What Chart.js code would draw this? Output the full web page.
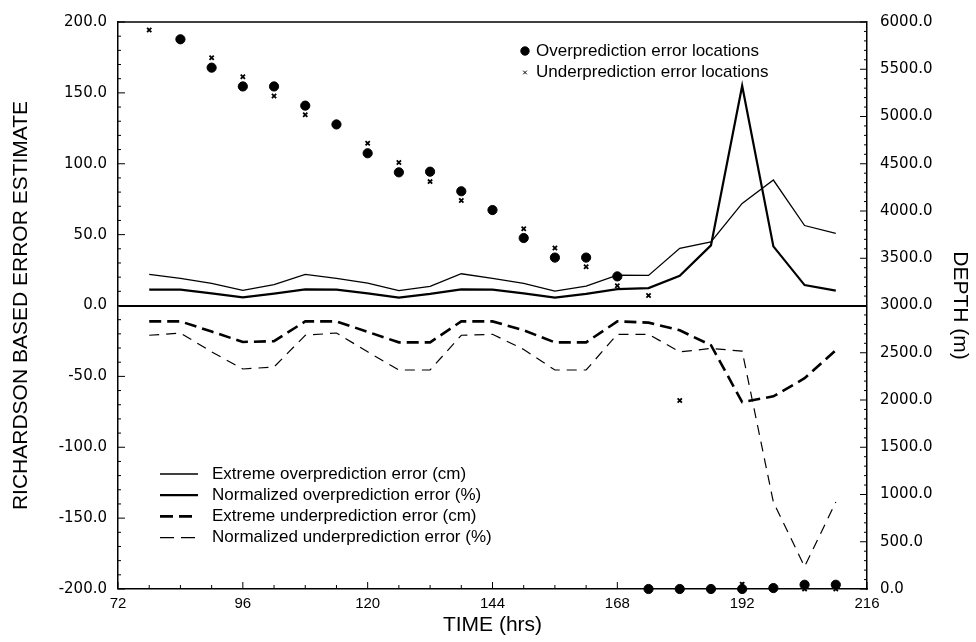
<!DOCTYPE html>
<html>
<head>
<meta charset="utf-8">
<title>Richardson based error estimate</title>
<script src="https://cdn.jsdelivr.net/npm/chart.js@4.4.1/dist/chart.umd.min.js"></script>
<style>
  html, body { margin: 0; padding: 0; background: #fff; }
  canvas { display: block; }
</style>
</head>
<body>
<canvas id="chart" width="976" height="642"></canvas>
<script>
// time of each estimate (hrs)
const hours = [78, 84, 90, 96, 102, 108, 114, 120, 126, 132, 138, 144, 150, 156, 162, 168, 174, 180, 186, 192, 198, 204, 210];

// error estimates, left axis
const extremeOver = [21.9, 19.1, 15.6, 10.7, 14.7, 21.9, 19.1, 15.8, 10.5, 13.5, 22.4, 19.1, 15.6, 10.2, 13.7, 21.4, 21.2, 40.3, 44.8, 72.0, 88.5, 56.4, 50.8];
const normOver = [11.2, 11.2, 8.6, 5.8, 8.4, 11.4, 11.2, 8.6, 5.6, 8.2, 11.4, 11.2, 8.6, 5.6, 8.2, 11.6, 12.3, 21.0, 42.4, 155.0, 41.7, 14.4, 10.5];
const extremeUnder = [-11.2, -11.2, -18.4, -25.7, -25.2, -11.2, -11.2, -18.6, -26.0, -26.0, -11.2, -11.2, -17.5, -26.0, -26.0, -11.2, -12.1, -17.5, -28.0, -68.1, -64.1, -51.3, -31.5];
const normUnder = [-21.0, -19.4, -32.7, -44.8, -43.4, -21.0, -19.4, -32.7, -45.5, -45.5, -21.0, -20.3, -31.0, -45.5, -45.5, -20.3, -20.3, -32.7, -30.3, -32.2, -138.7, -184.2, -138.7];

// error locations, right axis (depth m)
const overDepth = [null, 5817, 5517, 5318, 5318, 5115, 4916, 4611, 4409, 4416, 4209, 4010, 3714, 3507, 3507, 3308, 0, 0, 0, 0, 10, 45, 45];
const underDepth = [5916, null, 5622, 5420, 5217, 5018, null, 4716, 4514, 4311, 4112, null, 3812, 3609, 3410, 3210, 3105, 1994, 0, 50, 0, 0, 0];

const xTicks = [72, 96, 120, 144, 168, 192, 216];

const toPoints = (ys) => hours.map((h, i) => ({x: h, y: ys[i]})).filter(p => p.y !== null);

// little tick marks pointing into the plot, plus the top edge of the frame
const innerTicks = {
  id: 'innerTicks',
  afterDraw(chart) {
    const {ctx, chartArea: a, scales} = chart;
    ctx.save();
    ctx.strokeStyle = '#000';
    ctx.lineWidth = 1.5;
    ctx.beginPath();
    ctx.moveTo(a.left, a.top);
    ctx.lineTo(a.right, a.top);
    ctx.stroke();
    ctx.lineWidth = 1;
    for (let h = 72; h <= 216; h += 6) {
      const px = scales.x.getPixelForValue(h);
      const len = h % 24 === 0 ? 7 : 4;
      ctx.beginPath(); ctx.moveTo(px, a.bottom); ctx.lineTo(px, a.bottom - len); ctx.stroke();
    }
    for (let v = -200; v <= 200; v += 10) {
      const py = scales.y.getPixelForValue(v);
      const len = v % 50 === 0 ? 7 : 3;
      ctx.beginPath(); ctx.moveTo(a.left, py); ctx.lineTo(a.left + len, py); ctx.stroke();
    }
    for (let d = 0; d <= 6000; d += 100) {
      const py = scales.y2.getPixelForValue(d);
      const len = d % 500 === 0 ? 7 : 3;
      ctx.beginPath(); ctx.moveTo(a.right, py); ctx.lineTo(a.right - len, py); ctx.stroke();
    }
    ctx.restore();
  }
};

// two separate legend blocks like the original figure
const splitLegend = {
  id: 'splitLegend',
  afterDraw(chart, args, opts) {
    const {ctx} = chart;
    ctx.save();
    ctx.fillStyle = '#000';
    ctx.strokeStyle = '#000';
    ctx.font = opts.font;
    ctx.textBaseline = 'middle';
    ctx.textAlign = 'left';
    let pi = 0, li = 0;
    chart.data.datasets.forEach((ds) => {
      if (ds.type === 'scatter') {
        const x = opts.points.x, y = opts.points.y + pi * opts.points.row;
        Chart.helpers.drawPoint(ctx, {
          pointStyle: ds.pointStyle, radius: ds.legendRadius, borderWidth: ds.borderWidth, rotation: 0
        }, x, y);
        ctx.fillText(ds.label, x + 11, y);
        pi++;
      } else {
        const x = opts.lines.x, y = opts.lines.y + li * opts.lines.row;
        ctx.lineWidth = ds.borderWidth;
        ctx.setLineDash(ds.legendDash || []);
        ctx.beginPath(); ctx.moveTo(x, y); ctx.lineTo(x + 38, y); ctx.stroke();
        ctx.setLineDash([]);
        ctx.fillText(ds.label, x + 52, y);
        li++;
      }
    });
    ctx.restore();
  }
};

Chart.defaults.color = '#000';
Chart.defaults.font.family = '"Liberation Sans", Arial, sans-serif';

new Chart(document.getElementById('chart'), {
  type: 'line',
  data: {
    datasets: [
      {
        type: 'scatter', label: 'Overprediction error locations', yAxisID: 'y2',
        data: toPoints(overDepth), pointStyle: 'circle', pointRadius: 4.6, legendRadius: 4.2,
        backgroundColor: '#000', borderColor: '#000', borderWidth: 1, clip: false
      },
      {
        type: 'scatter', label: 'Underprediction error locations', yAxisID: 'y2',
        data: toPoints(underDepth), pointStyle: 'crossRot', pointRadius: 3, legendRadius: 2.6,
        backgroundColor: '#000', borderColor: '#000', borderWidth: 1.8, clip: false
      },
      {
        label: 'Extreme overprediction error (cm)', yAxisID: 'y', data: toPoints(extremeOver),
        borderColor: '#000', borderWidth: 1.3, pointRadius: 0, tension: 0
      },
      {
        label: 'Normalized overprediction error (%)', yAxisID: 'y', data: toPoints(normOver),
        borderColor: '#000', borderWidth: 2.2, pointRadius: 0, tension: 0
      },
      {
        label: 'Extreme underprediction error (cm)', yAxisID: 'y', data: toPoints(extremeUnder),
        borderColor: '#000', borderWidth: 2.6, borderDash: [12, 6], legendDash: [13, 6], pointRadius: 0, tension: 0
      },
      {
        label: 'Normalized underprediction error (%)', yAxisID: 'y', data: toPoints(normUnder),
        borderColor: '#000', borderWidth: 1.2, borderDash: [10, 7], legendDash: [14, 7], pointRadius: 0, tension: 0
      }
    ]
  },
  options: {
    responsive: false,
    animation: false,
    devicePixelRatio: 1,
    layout: { padding: { top: 17, left: 0, right: 0, bottom: 0 } },
    plugins: {
      legend: { display: false },
      tooltip: { enabled: false },
      splitLegend: {
        font: '17px "Liberation Sans", Arial, sans-serif',
        points: { x: 525, y: 51, row: 21.5 },
        lines: { x: 160, y: 474, row: 21.2 }
      }
    },
    scales: {
      x: {
        type: 'linear', min: 72, max: 216,
        afterBuildTicks: (s) => { s.ticks = xTicks.map(v => ({value: v})); },
        afterFit: (s) => { s.height = 53; },
        grid: { display: false, drawTicks: false },
        border: { display: true, color: '#000', width: 1.5 },
        ticks: { padding: 6, maxRotation: 0, font: { size: 15 }, callback: (v) => String(v) },
        title: { display: true, text: 'TIME (hrs)', font: { size: 21 }, padding: { top: 0, bottom: 4 } }
      },
      y: {
        position: 'left', min: -200, max: 200,
        afterFit: (s) => { s.width = 118; },
        grid: {
          drawTicks: false,
          color: (c) => c.tick && c.tick.value === 0 ? '#000' : 'rgba(0,0,0,0)',
          lineWidth: (c) => c.tick && c.tick.value === 0 ? 2 : 0
        },
        border: { display: true, color: '#000', width: 1.5 },
        ticks: { stepSize: 50, padding: 11, font: { family: '"DejaVu Sans", sans-serif', size: 15 }, callback: (v) => v.toFixed(1) },
        title: { display: true, text: 'RICHARDSON BASED ERROR ESTIMATE', font: { size: 21 }, padding: { top: 9, bottom: 0 } }
      },
      y2: {
        position: 'right', min: 0, max: 6000,
        afterFit: (s) => { s.width = 109; },
        grid: { display: false, drawTicks: false },
        border: { display: true, color: '#000', width: 1.5 },
        ticks: { stepSize: 500, padding: 13, font: { family: '"DejaVu Sans", sans-serif', size: 15 }, callback: (v) => v.toFixed(1) },
        title: { display: true, text: 'DEPTH (m)', font: { size: 21 }, padding: { top: 4, bottom: 0 } }
      }
    }
  },
  plugins: [innerTicks, splitLegend]
});
</script>
</body>
</html>
